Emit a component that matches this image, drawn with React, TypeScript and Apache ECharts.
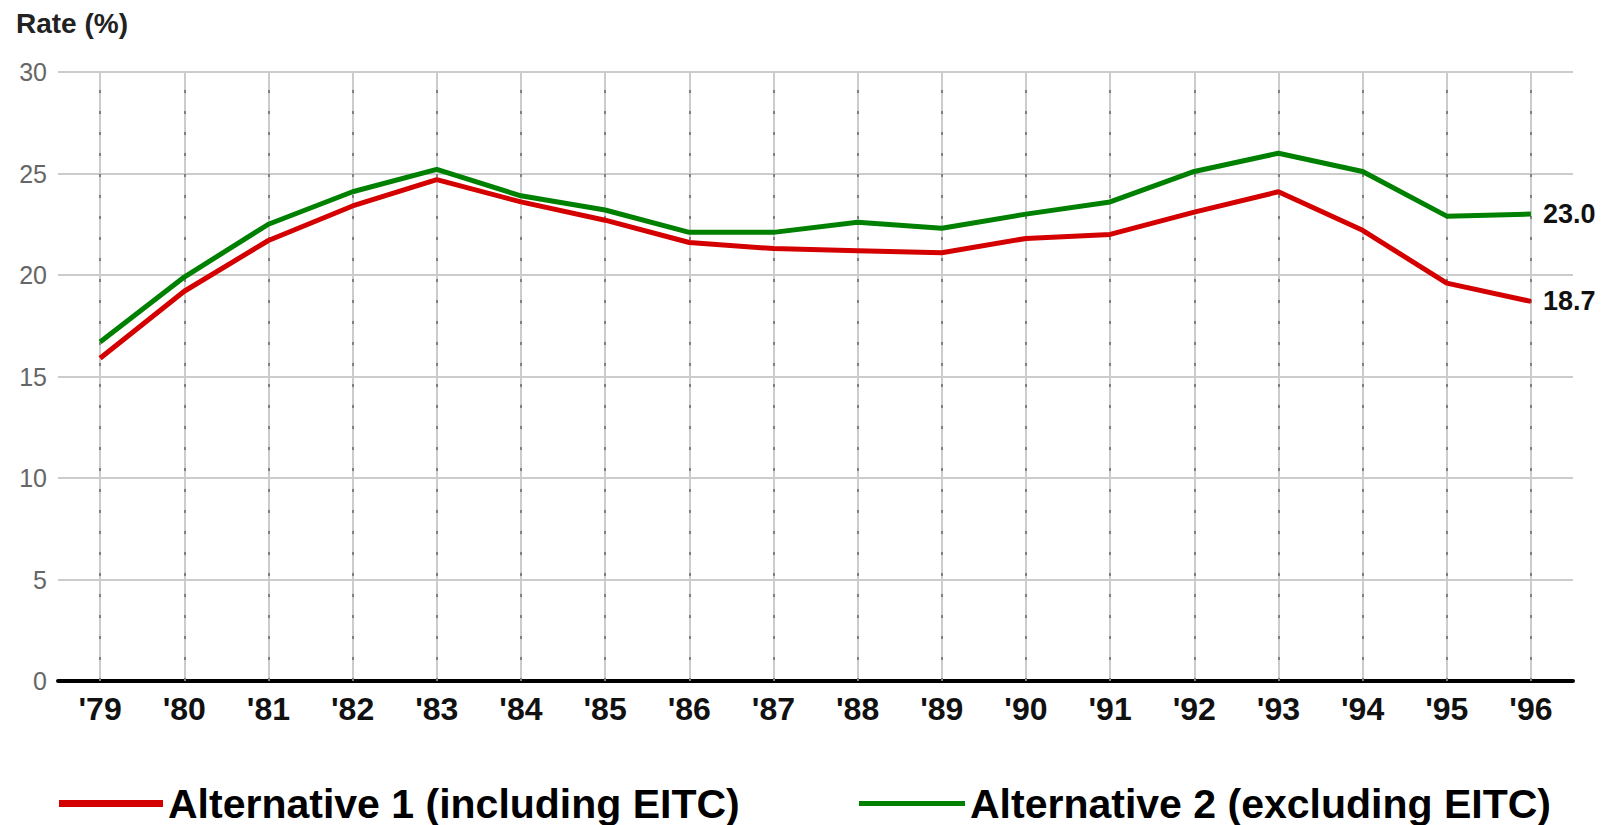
import React, { useEffect, useRef } from "react";
import * as echarts from "echarts";

const years = ["'79", "'80", "'81", "'82", "'83", "'84", "'85", "'86", "'87", "'88", "'89", "'90", "'91", "'92", "'93", "'94", "'95", "'96"];
const alt1 = [15.9, 19.2, 21.7, 23.4, 24.7, 23.6, 22.7, 21.6, 21.3, 21.2, 21.1, 21.8, 22.0, 23.1, 24.1, 22.2, 19.6, 18.7];
const alt2 = [16.7, 19.9, 22.5, 24.1, 25.2, 23.9, 23.2, 22.1, 22.1, 22.6, 22.3, 23.0, 23.6, 25.1, 26.0, 25.1, 22.9, 23.0];
const yTicks = [0, 5, 10, 15, 20, 25, 30];
const seriesNames = ["Alternative 1 (including EITC)", "Alternative 2 (excluding EITC)"];
const yTitle = "Rate (%)";

const FONT = '"Liberation Sans", Arial, sans-serif';

export default function App() {
  const ref = useRef<HTMLDivElement>(null);
  useEffect(() => {
    if (!ref.current) return;
    const chart = echarts.init(ref.current, undefined, { renderer: "svg" });
    const vLines = years.map((y) => ({ xAxis: y }));
    const endLabel = {
      show: true,
      distance: 12,
      formatter: (p: any) => Number(p.value).toFixed(1),
      fontFamily: FONT,
      fontWeight: "bold",
      fontSize: 27,
      color: "#111111",
    };
    chart.setOption({
      animation: false,
      backgroundColor: "#ffffff",
      grid: { left: 58, right: 37, top: 72, bottom: 144 },
      graphic: [
        {
          type: "text",
          left: 16,
          top: 9,
          style: { text: yTitle, font: `bold 28px ${FONT}`, fill: "#222222" },
        },
      ],
      legend: [
        {
          data: [seriesNames[0]],
          left: 54,
          top: 778,
          icon: "rect",
          itemWidth: 104,
          itemHeight: 7,
          textStyle: { fontFamily: FONT, fontWeight: "bold", fontSize: 41, color: "#000000" },
        },
        {
          data: [seriesNames[1]],
          left: 854,
          top: 778,
          icon: "rect",
          itemWidth: 106,
          itemHeight: 5,
          textStyle: { fontFamily: FONT, fontWeight: "bold", fontSize: 41, color: "#000000" },
        },
      ],
      xAxis: {
        type: "category",
        data: years,
        boundaryGap: true,
        axisLine: { show: true, lineStyle: { color: "#000000", width: 4 } },
        axisTick: { show: false },
        splitLine: { show: false },
        axisLabel: {
          margin: 12,
          fontFamily: FONT,
          fontWeight: "bold",
          fontSize: 32,
          color: "#111111",
        },
      },
      yAxis: {
        type: "value",
        min: yTicks[0],
        max: yTicks[yTicks.length - 1],
        interval: 5,
        axisLine: { show: false },
        axisTick: { show: false },
        splitLine: { show: true, lineStyle: { color: "#cccccc", width: 2 } },
        axisLabel: {
          margin: 11,
          fontFamily: FONT,
          fontSize: 25,
          color: "#666666",
        },
      },
      series: [
        {
          name: seriesNames[0],
          type: "line",
          data: alt1,
          z: 4,
          symbol: "none",
          lineStyle: { color: "#d40000", width: 5 },
          itemStyle: { color: "#d40000" },
          endLabel,
          markLine: {
            silent: true,
            symbol: "none",
            z: 1,
            label: { show: false },
            lineStyle: { color: "#cccccc", width: 2, type: "solid" },
            data: vLines,
          },
        },
        {
          name: seriesNames[1],
          type: "line",
          data: alt2,
          z: 3,
          symbol: "none",
          lineStyle: { color: "#008000", width: 5 },
          itemStyle: { color: "#008000" },
          endLabel,
          markLine: {
            silent: true,
            symbol: "none",
            z: 2,
            label: { show: false },
            lineStyle: { color: "#808080", width: 2, type: [3, 18] },
            data: vLines,
          },
        },
      ],
    });
    return () => chart.dispose();
  }, []);
  return (
    <div
      ref={ref}
      style={{ position: "fixed", left: 0, top: 0, width: 1610, height: 825 }}
    />
  );
}
